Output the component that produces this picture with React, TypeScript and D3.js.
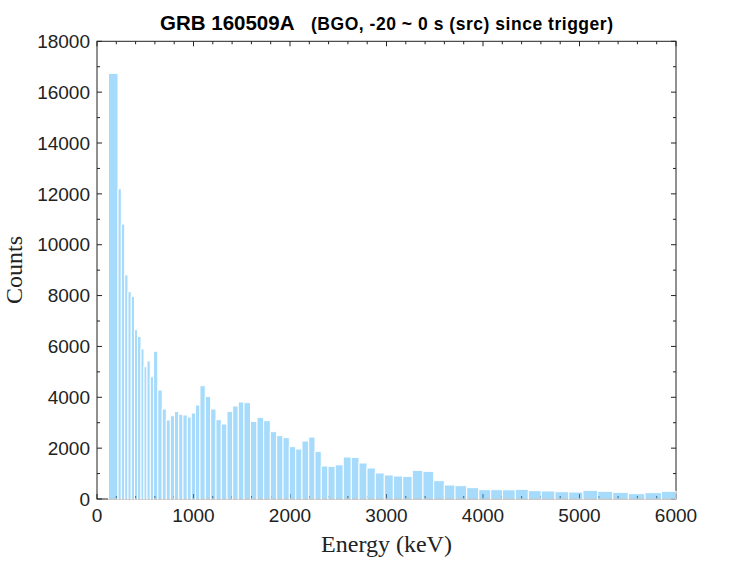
import * as React from "react";
import * as d3 from "d3";

// channel boundaries (keV), 74 bins
const binEdges = [
  119, 218, 252, 287, 321, 355, 389, 420, 456, 487, 518, 552, 586, 630, 676,
  718, 760, 803, 847, 891, 936, 977, 1021, 1067, 1122, 1178, 1233, 1288, 1347,
  1406, 1464, 1523, 1591, 1658, 1727, 1796, 1862, 1928, 1993, 2059, 2124, 2194,
  2259, 2324, 2394, 2469, 2552, 2635, 2715, 2798, 2884, 2977, 3071, 3168, 3267,
  3378, 3489, 3599, 3710, 3831, 3956, 4080, 4202, 4335, 4470, 4604, 4746, 4888,
  5036, 5189, 5344, 5506, 5679, 5850, 6000,
];

const counts = [
  16740, 12200, 10814, 8815, 8150, 7970, 6660, 6390, 5905, 5200, 5427, 4810,
  5810, 4286, 3539, 3107, 3276, 3440, 3330, 3303, 3224, 3382, 3696, 4456, 4037,
  3539, 3119, 2949, 3448, 3657, 3814, 3788, 3053, 3211, 3080, 2648, 2491, 2412,
  2058, 1966, 2281, 2438, 1875, 1298, 1285, 1345, 1652, 1638, 1416, 1219, 1022,
  944, 904, 891, 1127, 1088, 721, 551, 525, 446, 367, 367, 360, 380, 328, 315,
  288, 275, 341, 302, 262, 210, 249, 302,
];

const xTickValues = [0, 1000, 2000, 3000, 4000, 5000, 6000];
const yTickValues = [0, 2000, 4000, 6000, 8000, 10000, 12000, 14000, 16000, 18000];

const titleMain = "GRB 160509A";
const titleSub = "(BGO, -20 ~ 0 s (src) since trigger)";
const xLabel = "Energy (keV)";
const yLabel = "Counts";

const W = 747;
const H = 561;
const left = 97, right = 676, top = 41.3, bottom = 499;

const App: React.FC = () => {
  const x = d3.scaleLinear().domain([0, 6000]).range([left, right]);
  const y = d3.scaleLinear().domain([0, 18000]).range([bottom, top]);

  const bins = counts.map((c, i) => ({ x0: binEdges[i], x1: binEdges[i + 1], c }));
  const xMinor = d3.range(0, 6001, 200);
  const yMinor = d3.range(0, 18001, 1000);
  const axisColor = "#222";
  const sans = "'Liberation Sans', Arial, Helvetica, sans-serif";
  const serif = "'Liberation Serif', 'Times New Roman', serif";

  return (
    <svg
      width={W}
      height={H}
      style={{ position: "absolute", left: 0, top: 0, background: "#fff" }}
    >
      {/* frame */}
      <rect x={left} y={top} width={right - left} height={bottom - top}
        fill="none" stroke={axisColor} strokeWidth={1} />

      {/* ticks, inward on all four sides */}
      {xMinor.map(v => {
        const major = v % 1000 === 0;
        const len = major ? 5 : 3;
        return (
          <g key={"xt" + v} stroke={axisColor} strokeWidth={1}>
            <line x1={x(v)} x2={x(v)} y1={bottom} y2={bottom - len} />
            <line x1={x(v)} x2={x(v)} y1={top} y2={top + len} />
          </g>
        );
      })}
      {yMinor.map(v => {
        const major = v % 2000 === 0;
        const len = major ? 5 : 3;
        return (
          <g key={"yt" + v} stroke={axisColor} strokeWidth={1}>
            <line x1={left} x2={left + len} y1={y(v)} y2={y(v)} />
            <line x1={right} x2={right - len} y1={y(v)} y2={y(v)} />
          </g>
        );
      })}

      {/* histogram bars */}
      <g>
        {bins.map((b, i) => (
          <rect key={i}
            x={x(b.x0)} y={y(b.c)}
            width={x(b.x1) - x(b.x0)} height={y(0) - y(b.c)}
            fill="rgb(77,184,249)" fillOpacity={0.5}
            stroke="#fff" strokeWidth={1} />
        ))}
      </g>

      {/* tick labels */}
      {xTickValues.map(v => (
        <text key={"xl" + v} x={x(v)} y={522} textAnchor="middle"
          fontFamily={sans} fontSize={19} fill={axisColor}>{v}</text>
      ))}
      {yTickValues.map(v => (
        <text key={"yl" + v} x={90} y={y(v)} textAnchor="end" dy="0.35em"
          fontFamily={sans} fontSize={19} fill={axisColor}>{v}</text>
      ))}

      {/* axis titles */}
      <text x={(left + right) / 2} y={552} textAnchor="middle"
        fontFamily={serif} fontSize={24} fill={axisColor}>{xLabel}</text>
      <text transform="translate(22,270) rotate(-90)" textAnchor="middle"
        fontFamily={serif} fontSize={24} fill={axisColor}>{yLabel}</text>

      {/* title */}
      <text x={160} y={30} fontFamily={sans} fontWeight="bold" fontSize={20.5}
        fill="#000">{titleMain}</text>
      <text x={311} y={30} fontFamily={sans} fontWeight="bold" fontSize={17.5}
        textLength={302} lengthAdjust="spacing" fill="#000">{titleSub}</text>
    </svg>
  );
};

export default App;
